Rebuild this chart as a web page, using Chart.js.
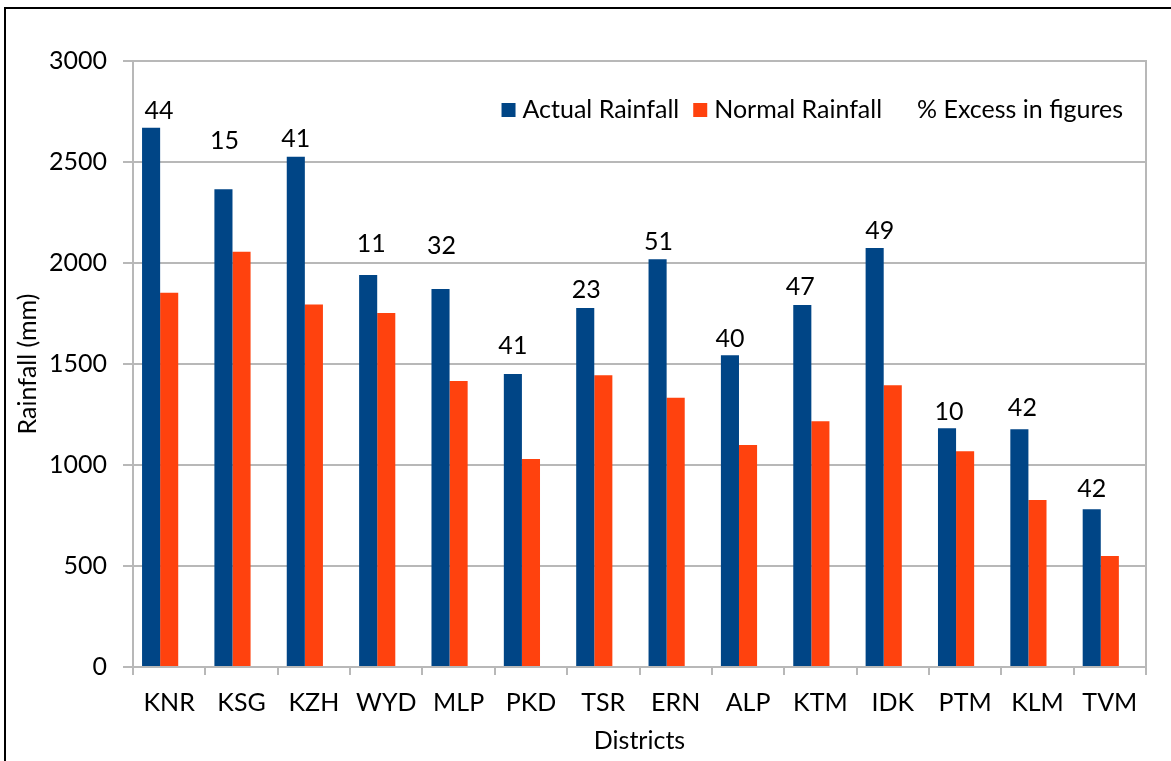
<!DOCTYPE html>
<html>
<head>
<meta charset="utf-8">
<script src="https://cdn.jsdelivr.net/npm/chart.js@4.4.0/dist/chart.umd.min.js"></script>
<style>
    html, body { margin: 0; padding: 0; background: #fff; overflow: hidden; }
    #wrap { position: relative; width: 1171px; height: 761px; }
    #frame { position: absolute; left: 4px; top: 7px; width: 1300px; height: 900px; border-left: 2px solid #000; border-top: 2px solid #000; }
    #rainChart { position: absolute; left: 0; top: 0; }
</style>
</head>
<body>
<div id="wrap">
    <div id="frame"></div>
    <canvas id="rainChart" width="1171" height="761"></canvas>
</div>
<script>
const districts = ['KNR', 'KSG', 'KZH', 'WYD', 'MLP', 'PKD', 'TSR', 'ERN', 'ALP', 'KTM', 'IDK', 'PTM', 'KLM', 'TVM'];
const actualRain = [2670, 2365, 2526, 1941, 1871, 1450, 1777, 2018, 1543, 1792, 2074, 1182, 1177, 781];
const normalRain = [1853, 2056, 1795, 1752, 1416, 1030, 1444, 1333, 1099, 1216, 1395, 1068, 827, 550];
const excessPct = [44, 15, 41, 11, 32, 41, 23, 51, 40, 47, 49, 10, 42, 42];
// third series only reserves a slot in each group and a legend entry
const excessSeries = districts.map(() => null);

const FONT_FAMILY = 'Lato, "DejaVu Sans", sans-serif';
const FONT_SIZE = 25;
const GRID = '#b8b8b8';

// label nudges [dx, gap above bar] as placed by hand in the original
const labelNudge = [[8, 9], [1, 40], [0, 10], [3, 23], [1, 35], [0, 20], [1, 10], [1, 9], [0, 8], [-2, 10], [5, 9], [2, 8], [3, 13], [0, 12]];

const excessLabels = {
    id: 'excessLabels',
    afterDatasetsDraw(chart) {
        const meta = chart.getDatasetMeta(0);
        const c = chart.ctx;
        c.save();
        c.font = FONT_SIZE + 'px ' + FONT_FAMILY;
        c.fillStyle = '#000';
        c.textAlign = 'center';
        c.textBaseline = 'alphabetic';
        meta.data.forEach((bar, i) => {
            const nudge = labelNudge[i] || [0, 9];
            c.fillText(String(excessPct[i]), bar.x + nudge[0], bar.y - nudge[1]);
        });
        c.restore();
    }
};

const insideLegend = {
    id: 'insideLegend',
    afterDraw(chart) {
        const c = chart.ctx;
        const area = chart.chartArea;
        const box = 14;
        const y = area.top + 49;
        let x = area.right - 23;
        c.save();
        c.font = FONT_SIZE + 'px ' + FONT_FAMILY;
        c.textBaseline = 'middle';
        c.textAlign = 'left';
        const sets = chart.data.datasets;
        for (let i = sets.length - 1; i >= 0; i--) {
            const ds = sets[i];
            const w = c.measureText(ds.label).width;
            x -= w;
            c.fillStyle = '#000';
            c.fillText(ds.label, x, y);
            x -= 7 + box;
            if (ds.backgroundColor !== 'transparent') {
                c.fillStyle = ds.backgroundColor;
                c.fillRect(x, y - box / 2, box, box);
            }
            x -= 14;
        }
        c.restore();
    }
};

const ctx = document.getElementById('rainChart').getContext('2d');

new Chart(ctx, {
    type: 'bar',
    data: {
        labels: districts,
        datasets: [
            { label: 'Actual Rainfall', data: actualRain, backgroundColor: '#004586', borderWidth: 0 },
            { label: 'Normal Rainfall', data: normalRain, backgroundColor: '#ff420e', borderWidth: 0 },
            { label: '% Excess in figures', data: excessSeries, backgroundColor: 'transparent', borderWidth: 0 }
        ]
    },
    options: {
        responsive: false,
        animation: false,
        events: [],
        datasets: {
            bar: { categoryPercentage: 0.75, barPercentage: 1 }
        },
        layout: { padding: { top: 61, right: 25, bottom: 0, left: 0 } },
        plugins: {
            legend: { display: false },
            tooltip: { enabled: false }
        },
        scales: {
            x: {
                grid: { drawOnChartArea: false, drawTicks: true, tickLength: 8, color: GRID, lineWidth: 2 },
                border: { color: GRID, width: 2 },
                ticks: { color: '#000', padding: 13, font: { family: FONT_FAMILY, size: FONT_SIZE }, maxRotation: 0 },
                title: { display: true, text: 'Districts', color: '#000', padding: { top: 4, bottom: 5 }, font: { family: FONT_FAMILY, size: FONT_SIZE } },
                afterFit(scale) { scale.height = 94; }
            },
            y: {
                min: 0,
                max: 3000,
                ticks: {
                    stepSize: 500,
                    color: '#000',
                    padding: 16,
                    font: { family: FONT_FAMILY, size: FONT_SIZE },
                    callback: v => String(v)
                },
                grid: { color: GRID, lineWidth: 2, tickLength: 10 },
                border: { color: GRID, width: 2 },
                title: { display: true, text: 'Rainfall (mm)', color: '#000', padding: { top: 13, bottom: 4 }, font: { family: FONT_FAMILY, size: FONT_SIZE } },
                afterFit(scale) { scale.width = 133; }
            },
            yRight: {
                position: 'right',
                min: 0,
                max: 3000,
                ticks: { display: false },
                grid: { display: false },
                border: { color: GRID, width: 2 },
                afterFit(scale) { scale.width = 0; }
            }
        }
    },
    plugins: [excessLabels, insideLegend]
});
</script>
</body>
</html>
